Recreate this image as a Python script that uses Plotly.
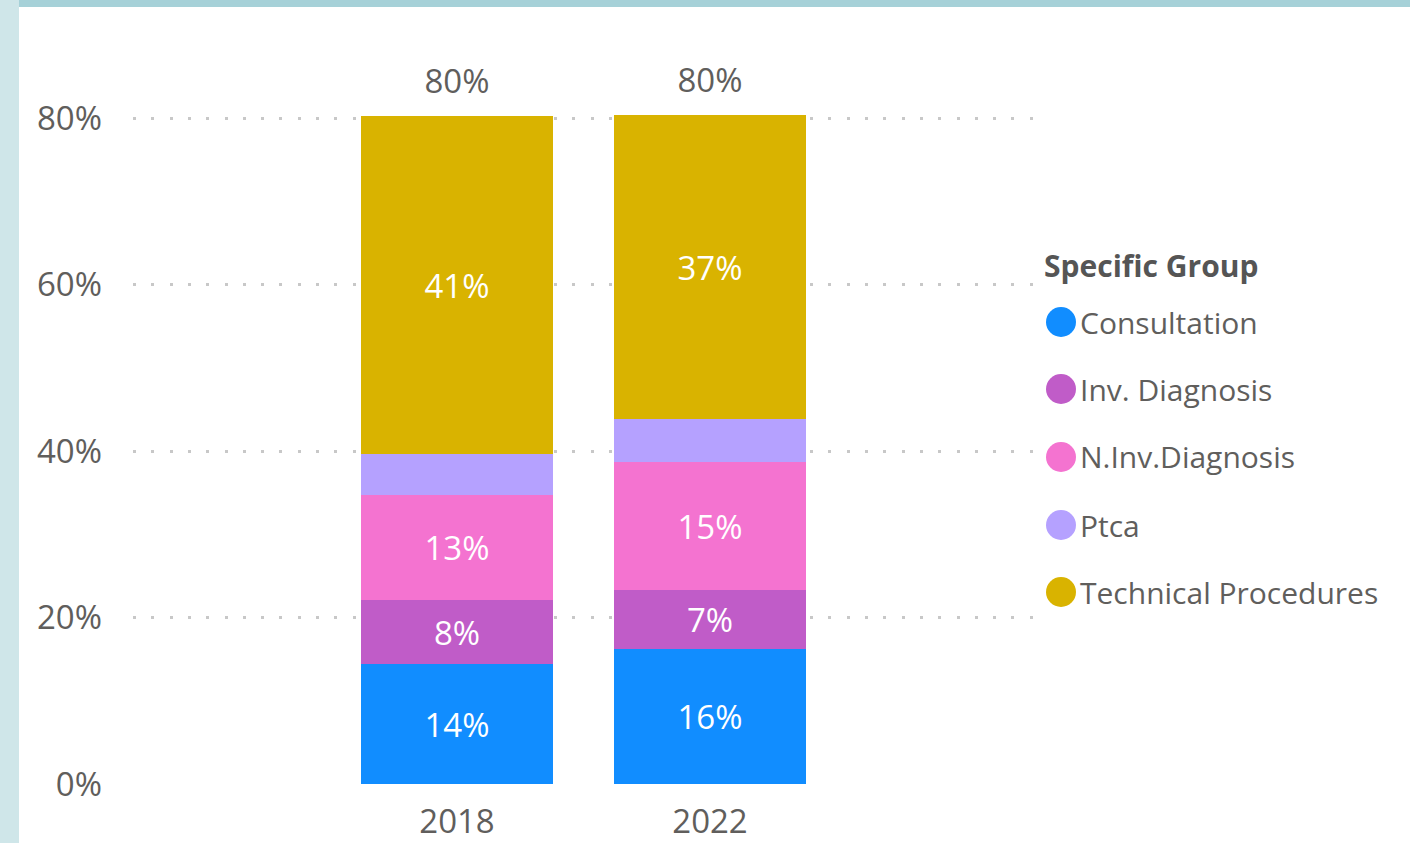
import plotly.graph_objects as go

# ---------------- data ----------------
years = ["2018", "2022"]
groups = ["Consultation", "Inv. Diagnosis", "N.Inv.Diagnosis", "Ptca", "Technical Procedures"]
consultation = [14.45, 16.2]
inv_diagnosis = [7.65, 7.1]
n_inv_diagnosis = [12.6, 15.4]
ptca = [5.0, 5.1]
technical_procedures = [40.6, 36.6]
series_values = [consultation, inv_diagnosis, n_inv_diagnosis, ptca, technical_procedures]
show_label = [True, True, True, False, True]
colors = ["#118DFF", "#C05CC8", "#F473D0", "#B5A1FF", "#D9B300"]
y_ticks = [0, 20, 40, 60, 80]
legend_title = "Specific Group"

FONT = "Open Sans"
GREY = "#605E5C"

# --------------- layout geometry (pixels) ---------------
WIDTH, HEIGHT = 1410, 862
L, R, T, B = 133, 1035, 18, 784
PW, PH = R - L, B - T
PX_PER_PCT = (784 - 118) / 80.0


def px_x(x):
    return (x - L) / PW


def px_y(y):
    return (B - y) / PH


fig = go.Figure()

for name, vals, col, lab in zip(groups, series_values, colors, show_label):
    fig.add_trace(go.Bar(
        x=years,
        y=[v / 100 for v in vals],
        name=name,
        marker=dict(color=col, line=dict(width=0)),
        width=0.76,
        text=[f"{round(v)}%" if lab else "" for v in vals],
        textposition="inside",
        insidetextanchor="middle",
        textangle=0,
        textfont=dict(family=FONT, size=33, color="white"),
        constraintext="none",
        showlegend=False,
        hoverinfo="skip",
    ))

totals = [sum(s[i] for s in series_values) for i in range(len(years))]
fig.add_trace(go.Scatter(
    x=years,
    y=[t / 100 for t in totals],
    mode="markers+text",
    marker=dict(size=22, color="rgba(0,0,0,0)"),
    text=[f"{round(t)}%" for t in totals],
    textposition="top center",
    textfont=dict(family=FONT, size=33, color=GREY),
    showlegend=False,
    hoverinfo="skip",
    cliponaxis=False,
))

# --------------- frame decoration ---------------
shapes = [
    dict(type="rect", xref="paper", yref="paper", layer="below",
         x0=px_x(0), x1=px_x(19), y0=px_y(0), y1=px_y(HEIGHT),
         fillcolor="#CFE6E9", line=dict(width=0)),
    dict(type="rect", xref="paper", yref="paper", layer="below",
         x0=px_x(19), x1=px_x(WIDTH), y0=px_y(0), y1=px_y(7),
         fillcolor="#A6D1D8", line=dict(width=0)),
]

annotations = [
    dict(text=f"<b>{legend_title}</b>", xref="paper", yref="paper",
         x=px_x(1042), y=px_y(265), xanchor="left", yanchor="middle",
         showarrow=False, font=dict(family=FONT, size=30, color="#555555")),
]

legend_rows = [322, 389, 457, 525, 592]
for name, col, yy in zip(groups, colors, legend_rows):
    shapes.append(dict(type="circle", xref="paper", yref="paper",
                       xsizemode="pixel", ysizemode="pixel",
                       xanchor=px_x(1061), yanchor=px_y(yy),
                       x0=-15, x1=15, y0=-15, y1=15,
                       fillcolor=col, line=dict(width=0)))
    annotations.append(dict(text=name, xref="paper", yref="paper",
                            x=px_x(1078), y=px_y(yy), xanchor="left", yanchor="middle",
                            showarrow=False, font=dict(family=FONT, size=30, color=GREY)))

fig.update_layout(
    width=WIDTH, height=HEIGHT,
    autosize=False,
    margin=dict(l=L, r=WIDTH - R, t=T, b=HEIGHT - B, pad=0),
    paper_bgcolor="white", plot_bgcolor="white",
    barmode="stack",
    bargap=0,
    showlegend=False,
    shapes=shapes,
    annotations=annotations,
    font=dict(family=FONT, color=GREY),
    xaxis=dict(
        type="category",
        range=[-(457 - L) / 253.0, 1 + (R - 710) / 253.0],
        showgrid=False, zeroline=False, showline=False,
        ticks="", tickfont=dict(family=FONT, size=33, color=GREY),
        ticklabelstandoff=15,
    ),
    yaxis=dict(
        range=[0, PH / PX_PER_PCT / 100],
        tickvals=[v / 100 for v in y_ticks],
        ticktext=[f"{v}%" for v in y_ticks],
        showgrid=True, gridcolor="#C8C8C8", gridwidth=3, griddash="3px,15.3px",
        zeroline=False, showline=False, ticks="",
        tickfont=dict(family=FONT, size=33, color=GREY),
        ticklabelstandoff=30,
    ),
)

fig.write_html(
    "out.html",
    config={"responsive": False, "displayModeBar": False},
    post_script=(
        "var b=document.body,h=document.documentElement;"
        "b.style.margin='0';b.style.padding='0';b.style.fontSize='0';b.style.lineHeight='0';"
        "b.style.overflow='hidden';h.style.overflow='hidden';"
    ),
)
